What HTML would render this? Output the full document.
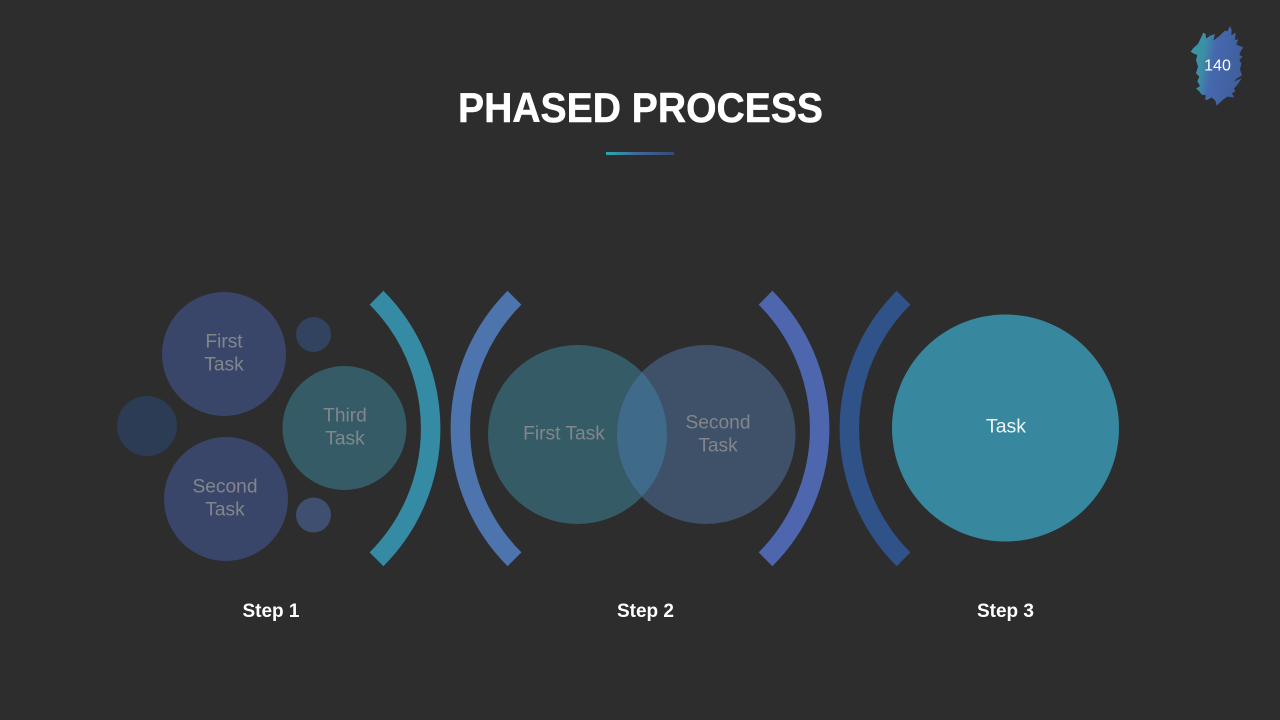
<!DOCTYPE html>
<html>
<head>
<meta charset="utf-8">
<style>
html,body{margin:0;padding:0;background:#2d2d2d;width:1280px;height:720px;overflow:hidden}
svg{display:block}
text{font-family:"Liberation Sans",sans-serif}
.t{font-size:19.2px;fill:#82868c;text-anchor:middle}
.s{font-size:19px;font-weight:bold;fill:#fff;text-anchor:middle}
</style>
</head>
<body>
<svg width="1280" height="720" viewBox="0 0 1280 720" xmlns="http://www.w3.org/2000/svg">
<defs>
<linearGradient id="u" x1="0" x2="1" y1="0" y2="0">
<stop offset="0" stop-color="#2aa9ad"/><stop offset="0.45" stop-color="#3f6a9c"/><stop offset="1" stop-color="#37497a"/>
</linearGradient>
<linearGradient id="b" x1="0" x2="1" y1="0.05" y2="0.3">
<stop offset="0" stop-color="#3a9aa5"/><stop offset="0.3" stop-color="#3c8ea6"/><stop offset="0.5" stop-color="#4668ae"/><stop offset="1" stop-color="#3f5f9c"/>
</linearGradient>
</defs>
<rect width="1280" height="720" fill="#2d2d2d"/>

<!-- page badge -->
<g transform="translate(1170,10) scale(0.3333)">
<polygon fill="url(#b)" points="62,125 72,112 84,102 100,68 107,72 108,86 122,76 135,72 130,92 148,78 165,62 172,64 180,48 185,60 184,76 197,68 195,90 205,88 199,104 220,112 212,124 208,135 218,140 208,150 214,160 210,178 216,196 200,206 192,214 215,205 204,222 192,236 196,244 186,250 192,262 172,260 158,270 140,287 136,272 125,262 112,270 105,268 108,256 95,254 88,244 78,236 90,228 82,214 88,200 78,190 84,170 78,150 82,135 70,130"/>
</g>
<text x="1217.5" y="70.5" font-size="16" fill="#fff" text-anchor="middle">140</text>

<!-- title -->
<text x="640.5" y="122" font-size="41.5" font-weight="bold" fill="#fff" stroke="#fff" stroke-width="0.5" text-anchor="middle" textLength="365" lengthAdjust="spacingAndGlyphs">PHASED PROCESS</text>
<rect x="606" y="152" width="68" height="3" fill="url(#u)"/>

<!-- arcs -->
<g fill="none" stroke-width="19.5">
<path d="M376.5 297.7 A185 185 0 0 1 376.5 559.3" stroke="#358ba3"/>
<path d="M514.5 297.7 A185 185 0 0 0 514.5 559.3" stroke="#4e74ae"/>
<path d="M765.5 297.7 A185 185 0 0 1 765.5 559.3" stroke="#4d66ae"/>
<path d="M903.5 297.7 A185 185 0 0 0 903.5 559.3" stroke="#2f5288"/>
</g>

<!-- step 1 -->
<circle cx="224" cy="354" r="62" fill="#3a4669"/>
<circle cx="226" cy="499" r="62" fill="#3a4669"/>
<circle cx="344.5" cy="428" r="62" fill="#355c66"/>
<circle cx="147" cy="426" r="30" fill="#2c3c55"/>
<circle cx="313.5" cy="334.5" r="17.5" fill="#31435f"/>
<circle cx="313.5" cy="515" r="17.5" fill="#3f4f6f"/>
<text class="t" x="224" y="347.5">First</text>
<text class="t" x="224" y="370.5">Task</text>
<text class="t" x="225" y="492.5">Second</text>
<text class="t" x="225" y="515.5">Task</text>
<text class="t" x="345" y="421.5">Third</text>
<text class="t" x="345" y="444.5">Task</text>

<!-- step 2 -->
<circle cx="577.5" cy="434.5" r="89.5" fill="#355c66"/>
<circle cx="706" cy="434.5" r="89.5" fill="#3f5069"/>
<path d="M642 372.4 A89.5 89.5 0 0 1 642 496.6 A89.5 89.5 0 0 1 642 372.4 Z" fill="#3f6a8a"/>
<text class="t" x="564" y="439.5">First Task</text>
<text class="t" x="718" y="428.5">Second</text>
<text class="t" x="718" y="451.5">Task</text>

<!-- step 3 -->
<circle cx="1005.5" cy="428" r="113.5" fill="#37889f"/>
<text x="1006" y="432.5" font-size="19.5" fill="#eef4f6" text-anchor="middle">Task</text>

<!-- labels -->
<text class="s" x="271" y="617">Step 1</text>
<text class="s" x="645.5" y="617">Step 2</text>
<text class="s" x="1005.5" y="617">Step 3</text>
</svg>
</body>
</html>
